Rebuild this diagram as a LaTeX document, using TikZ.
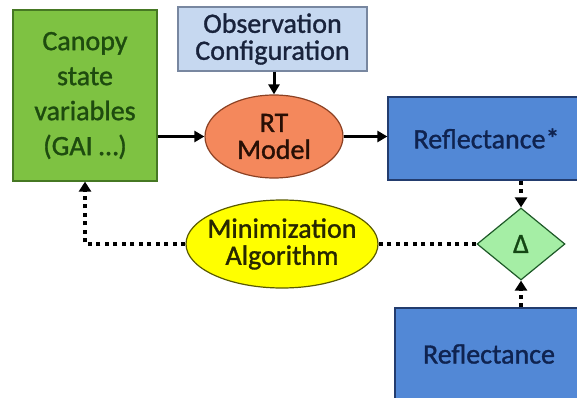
\documentclass[tikz,border=0pt]{standalone}
\usepackage{fontspec}
\setmainfont{Carlito}
\newfontfamily\lblfont{Carlito}[FakeBold=1.2]
\usetikzlibrary{shapes.geometric,arrows.meta}

\definecolor{stateFill}{RGB}{126,194,66}
\definecolor{stateLine}{RGB}{70,120,35}
\definecolor{stateText}{RGB}{30,75,15}
\definecolor{obsFill}{RGB}{198,216,240}
\definecolor{obsLine}{RGB}{120,135,160}
\definecolor{obsText}{RGB}{25,35,60}
\definecolor{rtFill}{RGB}{244,136,92}
\definecolor{rtLine}{RGB}{140,65,35}
\definecolor{rtText}{RGB}{40,15,5}
\definecolor{reflFill}{RGB}{82,136,214}
\definecolor{reflLine}{RGB}{35,60,110}
\definecolor{reflText}{RGB}{15,35,80}
\definecolor{deltaFill}{RGB}{165,238,165}
\definecolor{deltaLine}{RGB}{30,90,40}
\definecolor{deltaText}{RGB}{20,70,20}
\definecolor{minFill}{RGB}{255,255,0}
\definecolor{minLine}{RGB}{90,90,0}
\definecolor{minText}{RGB}{40,40,0}

\tikzset{
  lbl/.style={font={\lblfont\fontsize{28}{33}\selectfont}, align=center, inner sep=0pt, line width=1.2pt},
  rectbox/.style={lbl, rectangle},
  ovalbox/.style={lbl, ellipse},
  decision/.style={lbl, diamond},
  flow/.style={line width=3pt, -{Triangle[length=10pt,width=11pt]}},
  feedback/.style={line width=3.5pt, dash pattern=on 4pt off 4.5pt},
  feedbackarrow/.style={feedback, -{Triangle[length=10pt,width=12pt]}},
}

\begin{document}
\begin{tikzpicture}[x=1pt,y=-1pt]
\useasboundingbox (0,0) rectangle (577,398);
\clip (0,0) rectangle (577,398);

% blocks
\node[rectbox, fill=stateFill, draw=stateLine, text=stateText,
      minimum width=144pt, minimum height=171pt,
      font={\lblfont\fontsize{28}{35}\selectfont}] (state) at (85,95.5)
      {Canopy\\state\\variables\\(GAI …)};
\node[rectbox, fill=obsFill, draw=obsLine, text=obsText,
      minimum width=189pt, minimum height=64pt,
      font={\lblfont\fontsize{28}{27}\selectfont}] (obs) at (272.5,39)
      {Observation\\Configuration};
\node[ovalbox, fill=rtFill, draw=rtLine, text=rtText,
      minimum width=138pt, minimum height=83pt,
      font={\lblfont\fontsize{28}{27}\selectfont}] (rt) at (274,136.5)
      {RT\\Model};
\node[rectbox, fill=reflFill, draw=reflLine, text=reflText,
      minimum width=197pt, minimum height=83pt] (reflstar) at (486.5,138.5)
      {Reflectance*};
\node[rectbox, fill=reflFill, draw=reflLine, text=reflText,
      minimum width=188pt, minimum height=92pt] (refl) at (489,354)
      {Reflectance};
\node[decision, fill=deltaFill, draw=deltaLine, text=deltaText,
      minimum width=88pt, minimum height=72pt,
      font={\lblfont\fontsize{28}{28}\selectfont}] (delta) at (521,244)
      {Δ};
\node[ovalbox, fill=minFill, draw=minLine, text=minText,
      minimum width=192pt, minimum height=88pt, inner xsep=-9pt,
      font={\lblfont\fontsize{28}{27}\selectfont}] (minim) at (282,244)
      {Minimization\\Algorithm};

% forward model chain
\draw[flow] (state.east |- rt.west) -- (rt.west);
\draw[flow] (obs.south -| rt.north) -- (rt.north);
\draw[flow] (rt.east) -- (rt.east -| reflstar.west);

% comparison and feedback loop
\draw[feedbackarrow] (reflstar.south -| delta.north) -- (delta.north);
\draw[feedbackarrow] (refl.north -| delta.south) -- (delta.south);
\draw[feedback] (delta.west) -- (minim.east);
\draw[feedbackarrow] (minim.west) -| (state.south);
\end{tikzpicture}
\end{document}
